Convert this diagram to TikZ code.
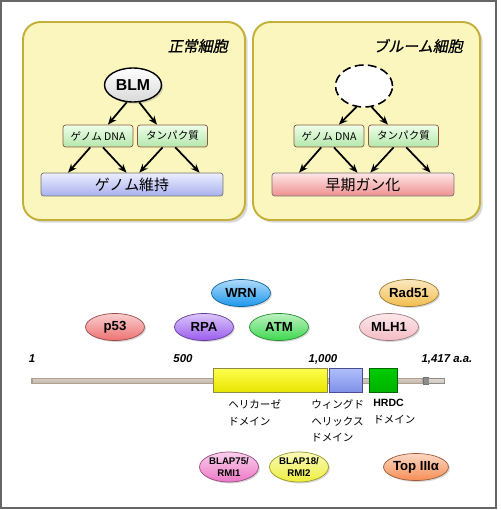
\documentclass[tikz,border=0pt]{standalone}
\usepackage{fontspec}
\setmainfont{Liberation Sans}
\newfontfamily\jp{Noto Sans CJK JP}
\newfontfamily\jpit[FakeSlant=0.2,FakeBold=1]{Noto Sans CJK JP}
\usetikzlibrary{arrows.meta,calc,shapes.geometric,shadows}
\definecolor{panelfill}{HTML}{FAF6BE}
\definecolor{panelline}{HTML}{C4B038}
\definecolor{partA}{HTML}{EEFFE8}
\definecolor{partB}{HTML}{B4E6AC}
\definecolor{partline}{HTML}{8A5A3A}
\definecolor{blueA}{HTML}{ECEEFF}
\definecolor{blueB}{HTML}{A8B0EE}
\definecolor{redA}{HTML}{FFE6E6}
\definecolor{redB}{HTML}{EE9090}
\definecolor{tan}{HTML}{B0A090}
\definecolor{cp53}{HTML}{EE7272}
\definecolor{crpa}{HTML}{9A5CEE}
\definecolor{cwrn}{HTML}{1C98EE}
\definecolor{catm}{HTML}{3ED84E}
\definecolor{crad}{HTML}{F2BE4E}
\definecolor{cmlh}{HTML}{F4BCC4}
\definecolor{crmia}{HTML}{EE78C6}
\definecolor{crmib}{HTML}{EEEE3E}
\definecolor{ctop}{HTML}{F68E56}
\definecolor{helA}{HTML}{FFFF50}
\definecolor{helB}{HTML}{E8E400}
\definecolor{wingA}{HTML}{B0C0FA}
\definecolor{wingB}{HTML}{8090E8}

\tikzset{
  panel/.style={draw=panelline, line width=1.1pt, fill=panelfill, rounded corners=10pt,
    drop shadow={opacity=.3, shadow xshift=1.5pt, shadow yshift=-1.5pt}},
  title/.style={anchor=east, inner sep=0pt, font=\jpit\fontsize{8.5}{10}\selectfont},
  topnode/.style={ellipse, draw, line width=.8pt, inner sep=0pt, minimum width=1.14cm,
    minimum height=.68cm, font=\bfseries\fontsize{9}{10}\selectfont},
  part/.style={draw=partline, rounded corners=1.5pt, top color=partA, bottom color=partB,
    minimum width=1.4cm, minimum height=.44cm, inner sep=0pt, font=\jp\fontsize{6}{7}\selectfont},
  outcome/.style={draw=black!55, rounded corners=1.5pt, minimum width=3.64cm,
    minimum height=.46cm, inner sep=0pt, font=\jp\fontsize{8.5}{10}\selectfont},
  flow/.style={->, line width=1pt},
  bubble/.style={ellipse, draw=#1!65!black, top color=#1!35!white, bottom color=#1,
    inner sep=0pt, minimum width=1.18cm, minimum height=.54cm,
    drop shadow={opacity=.3, shadow xshift=.8pt, shadow yshift=-.8pt},
    font=\bfseries\fontsize{7.5}{9}\selectfont},
  dombox/.style={line width=.5pt},
  aa/.style={inner sep=0pt, font=\bfseries\itshape\fontsize{6.5}{8}\selectfont},
  dlabel/.style={anchor=north west, align=left, inner sep=0pt, font=\jp\fontsize{6}{9.6}\selectfont}
}

\begin{document}
\begin{tikzpicture}[x=0.02cm, y=-0.02cm, >={Stealth[length=5pt,width=4pt]}]
  \useasboundingbox (0,0) rectangle (500,510);
  \fill[white] (0,0) rectangle (500,510);
  \draw[black!60, line width=1pt] (1,1) rectangle (496,508);

  \foreach \n/\dx/\pl/\pr/\title/\out/\ca/\cb in {L/0/23/245/正常細胞/ゲノム維持/blueA/blueB, R/231/253/480/ブルーム細胞/早期ガン化/redA/redB}{
    \draw[panel] (\pl,22) rectangle (\pr,220);
    \node[title] (title\n) at (\pr-17,46) {\title};
    \node[part] (dna\n) at (98+\dx,136) {ゲノム DNA};
    \node[part] (prot\n) at (172.5+\dx,136) {タンパク質};
    \node[outcome, top color=\ca, bottom color=\cb] (bar\n) at (132+\dx,184.5) {\out};
  }
  \node[topnode, top color=white, bottom color=black!15,
    drop shadow={opacity=.3, shadow xshift=1pt, shadow yshift=-1pt}] (topL) at (133,85) {BLM};
  \node[topnode, fill=white, line width=.9pt, dash pattern=on 5pt off 2.5pt, minimum height=.84cm] (topR) at (364,86) {};

  \foreach \n in {L,R}{
    \draw[flow] (top\n.250) -- ($(dna\n.north west)!.64!(dna\n.north east)$);
    \draw[flow] (top\n.290) -- ($(prot\n.north west)!.28!(prot\n.north east)$);
    \foreach \s/\a/\b in {dna/.39/.15, dna/.57/.47, prot/.36/.54, prot/.54/.87}
      \draw[flow] ($(\s\n.south west)!\a!(\s\n.south east)$) -- ($(bar\n.north west)!\b!(bar\n.north east)$);
  }

  \foreach \n/\x/\y/\c/\t in {p53/115/327/cp53/p53, rpa/204/327/crpa/RPA, wrn/241/293/cwrn/WRN,
      atm/279/327/catm/ATM, rad/409/293/crad/Rad51, mlh/389/327/cmlh/MLH1}
    \node[bubble=\c] (\n) at (\x,\y) {\t};

  \foreach \n/\x/\t in {a/32/1, b/183/500, c/323/{1,000}, d/447/{1,417 a.a.}}
    \node[aa] (pos\n) at (\x,359) {\t};

  \draw[draw=tan, line width=.6pt, top color=tan!55, middle color=white, bottom color=tan!75] (32,378.5) rectangle (423,383.5);
  \draw[draw=black!55, fill=black!45] (423,377.5) rectangle (428,384.5);
  \draw[draw=black!45, top color=tan!40, middle color=white, bottom color=tan!60] (428,378.5) rectangle (444,383.5);
  \draw[dombox, draw=yellow!50!black, top color=helA, bottom color=helB] (213,368) rectangle (327,392);
  \draw[dombox, draw=blue!40!black!70, top color=wingA, bottom color=wingB] (329,368) rectangle (362,392);
  \draw[dombox, draw=green!40!black, top color=green!80!black, bottom color=green!70!black] (369,368) rectangle (397,392);

  \node[dlabel] (lhel) at (228,399) {ヘリカーゼ\\ドメイン};
  \node[dlabel] (lwing) at (311,399) {ウィングド\\ヘリックス\\ドメイン};
  \node[dlabel] (lhrdc) at (373,399) {{\rmfamily\bfseries HRDC}\\ドメイン};

  \node[bubble=crmia, minimum height=.6cm, align=center, font=\bfseries\fontsize{5.5}{7}\selectfont] (rmi1) at (229,467) {BLAP75/\\RMI1};
  \node[bubble=crmib, minimum height=.6cm, align=center, font=\bfseries\fontsize{5.5}{7}\selectfont] (rmi2) at (299,467) {BLAP18/\\RMI2};
  \node[bubble=ctop, minimum width=1.24cm] (top3) at (416,467) {Top IIIα};
\end{tikzpicture}
\end{document}
